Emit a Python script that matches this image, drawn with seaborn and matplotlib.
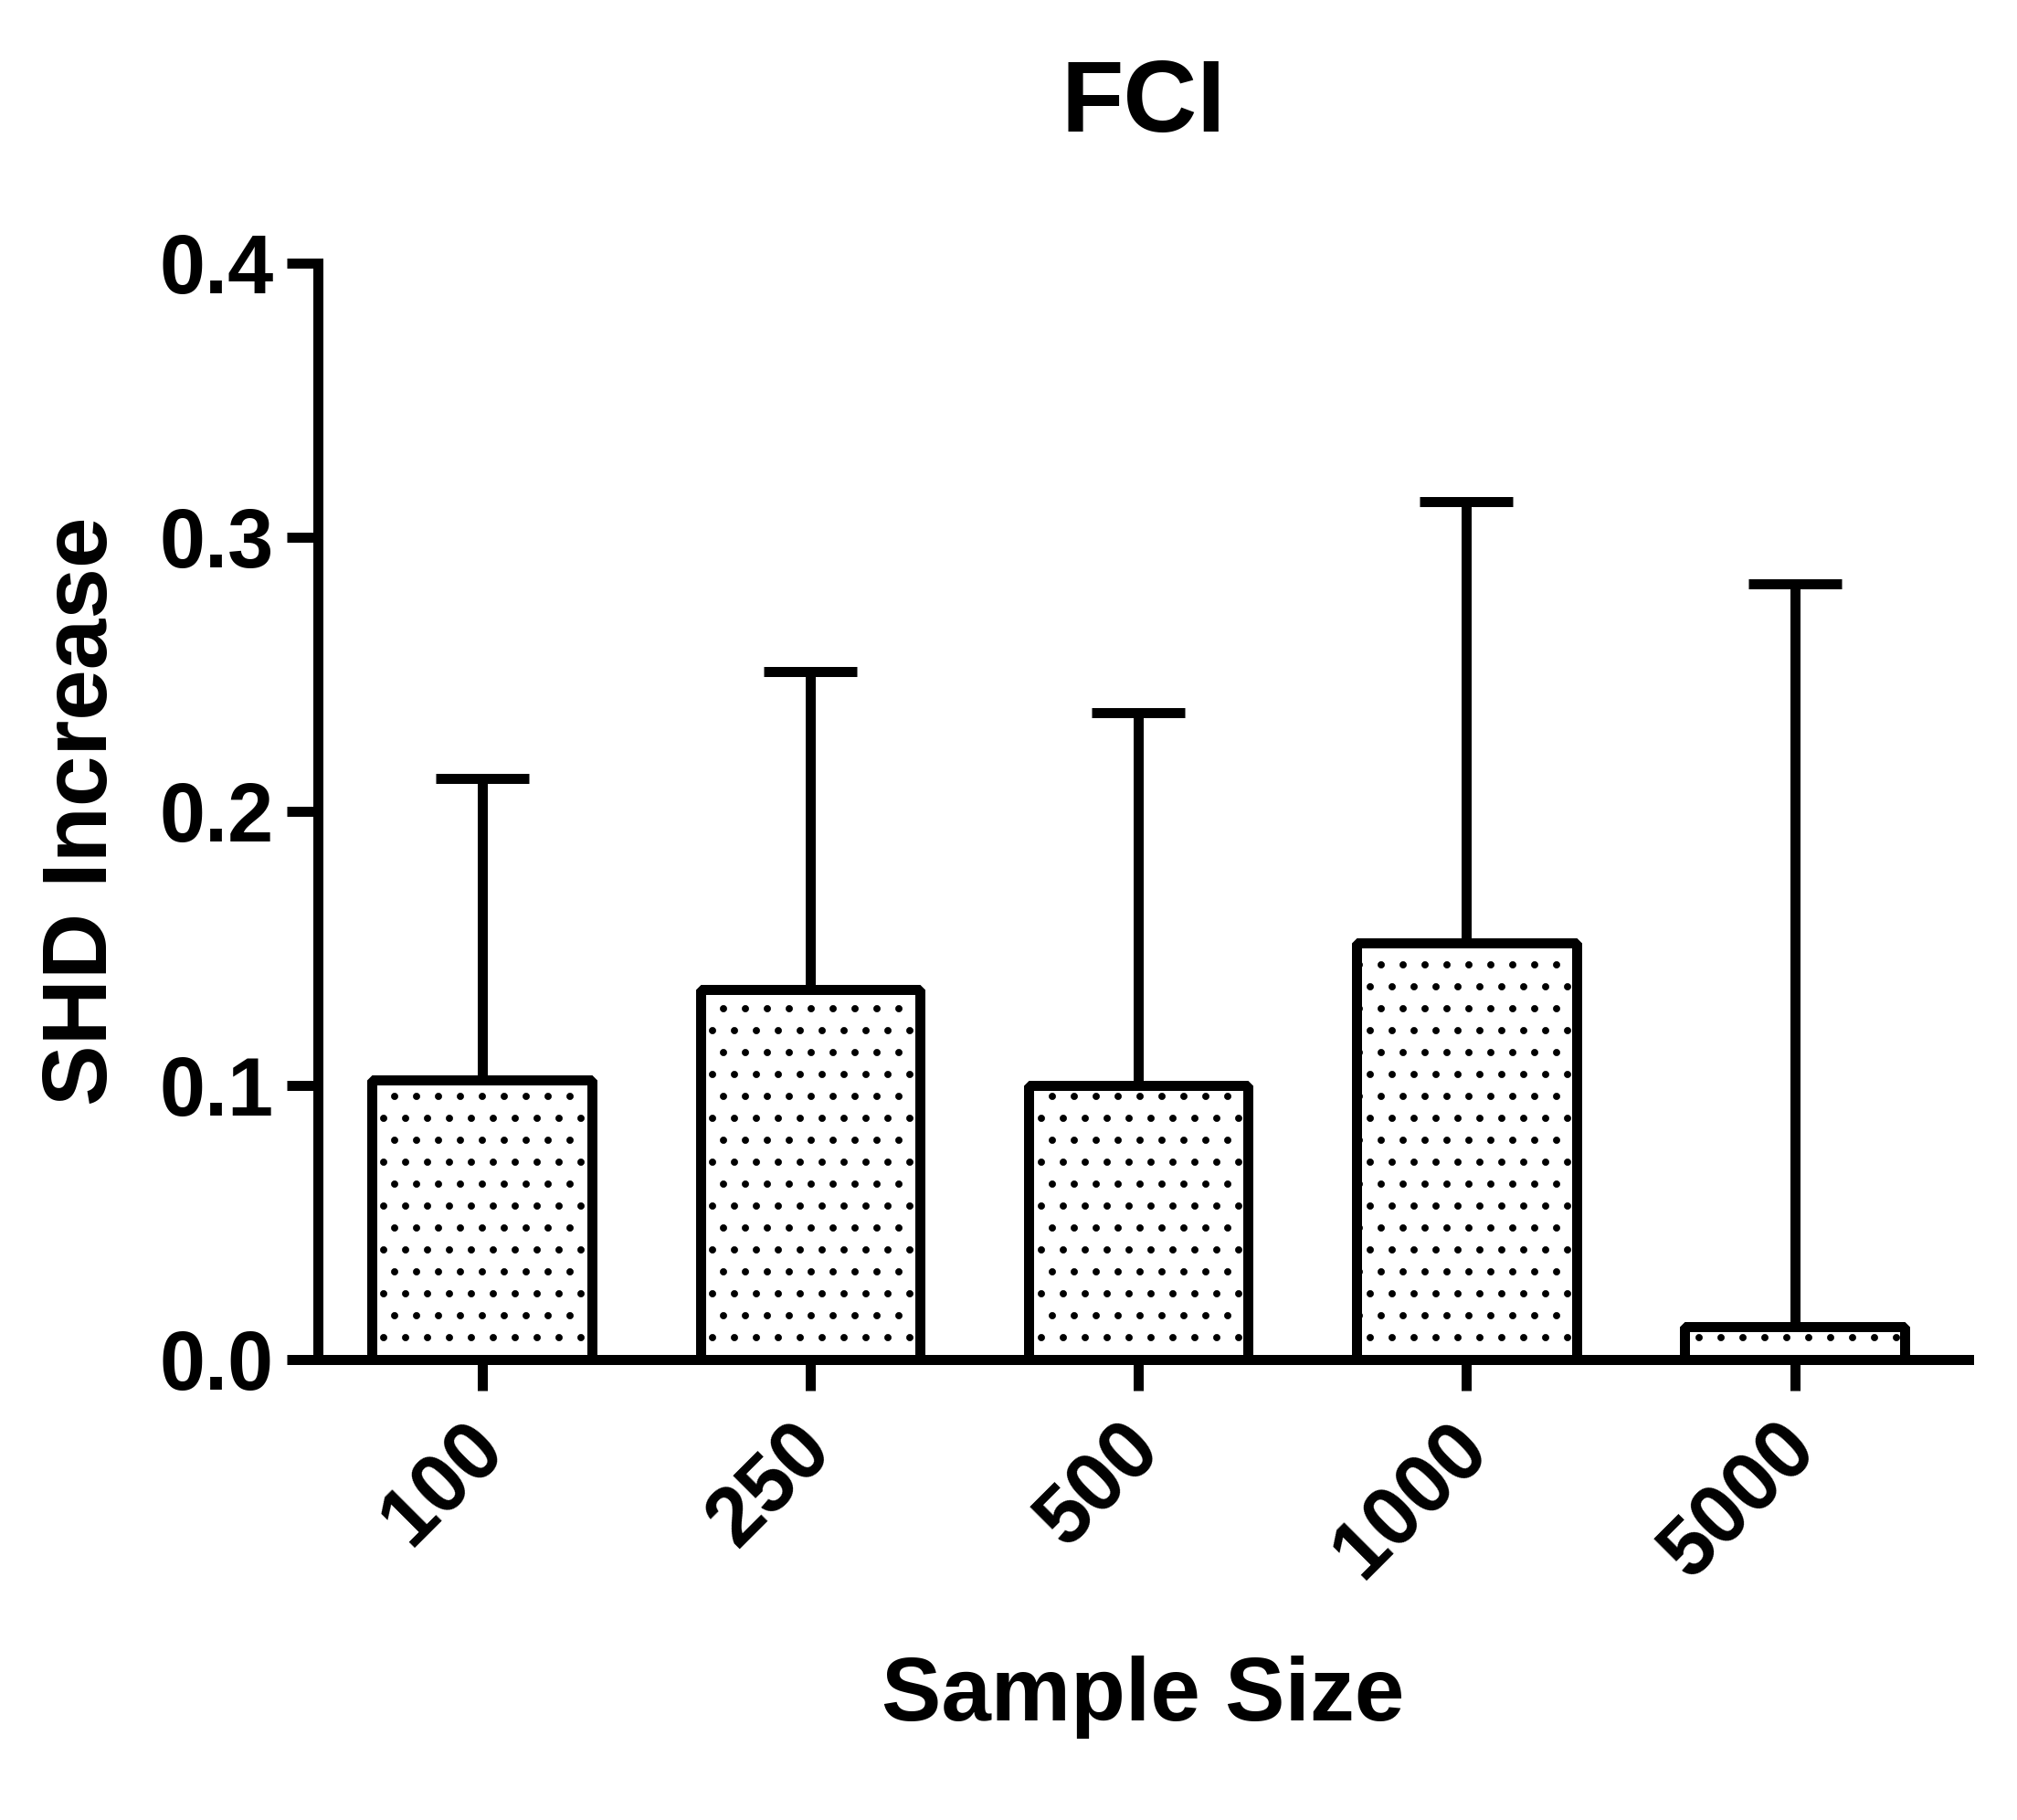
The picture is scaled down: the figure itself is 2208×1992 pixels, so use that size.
import numpy as np
import matplotlib
matplotlib.use("Agg")
import matplotlib.pyplot as plt
import matplotlib.transforms as mtransforms
import seaborn as sns

# values
sample_sizes = ["100", "250", "500", "1000", "5000"]
shd_mean = [0.102, 0.135, 0.100, 0.152, 0.012]
shd_upper = [0.212, 0.251, 0.236, 0.313, 0.283]
y_ticks = [0.0, 0.1, 0.2, 0.3, 0.4]

sns.set_style("ticks")
plt.rcParams["font.family"] = ["Liberation Sans", "DejaVu Sans"]
plt.rcParams["font.weight"] = "bold"
plt.rcParams["text.color"] = "black"
plt.rcParams["axes.labelcolor"] = "black"
plt.rcParams["hatch.color"] = "black"
plt.rcParams["hatch.linewidth"] = 1.5

lw = 5.5
fig = plt.figure(figsize=(2208 / 144, 1992 / 144), dpi=144, facecolor="white")
ax = fig.add_axes([348 / 2208, 1 - 1488 / 1992, 1807 / 2208, 1200 / 1992])

# bars with dotted hatch
sns.barplot(x=sample_sizes, y=shd_mean, color="white", saturation=1,
            edgecolor="black", linewidth=lw, width=0.67, hatch=".",
            errorbar=None, ax=ax, zorder=3)
for p in ax.patches:
    p.set_joinstyle("bevel")

# one-sided error bars
err = np.array(shd_upper) - np.array(shd_mean)
ax.errorbar(np.arange(len(sample_sizes)), shd_mean,
            yerr=[np.zeros(len(err)), err], fmt="none", ecolor="black",
            elinewidth=lw, capsize=25.5, capthick=lw, zorder=2)

ax.set_xlim(-0.5, 4.53)
ax.set_ylim(0, 0.4)
ax.set_yticks(y_ticks)
ax.set_yticklabels([f"{v:.1f}" for v in y_ticks])
sns.despine(ax=ax)
for s in ["left", "bottom"]:
    ax.spines[s].set_linewidth(lw)
    ax.spines[s].set_color("black")

ax.tick_params(axis="both", width=lw, length=17, color="black",
               labelsize=45, labelcolor="black")
ax.tick_params(axis="y", pad=7)
ax.tick_params(axis="x", pad=10)
offset = mtransforms.ScaledTranslation(-10 / 72, 0, fig.dpi_scale_trans)
for lab in ax.get_xticklabels():
    lab.set_rotation(45)
    lab.set_ha("right")
    lab.set_va("top")
    lab.set_rotation_mode("anchor")
    lab.set_fontweight("bold")
    lab.set_transform(lab.get_transform() + offset)
for lab in ax.get_yticklabels():
    lab.set_fontweight("bold")

ax.set_title("FCI", fontsize=56, fontweight="bold", pad=72, color="black")
ax.set_xlabel("Sample Size", fontsize=49, fontweight="bold", color="black")
ax.set_ylabel("SHD Increase", fontsize=50, fontweight="bold", color="black")
ax.xaxis.set_label_coords(0.5, -0.27)
ax.yaxis.set_label_coords(-0.116, 0.5)

fig.savefig("out.png", dpi=144, facecolor="white")
